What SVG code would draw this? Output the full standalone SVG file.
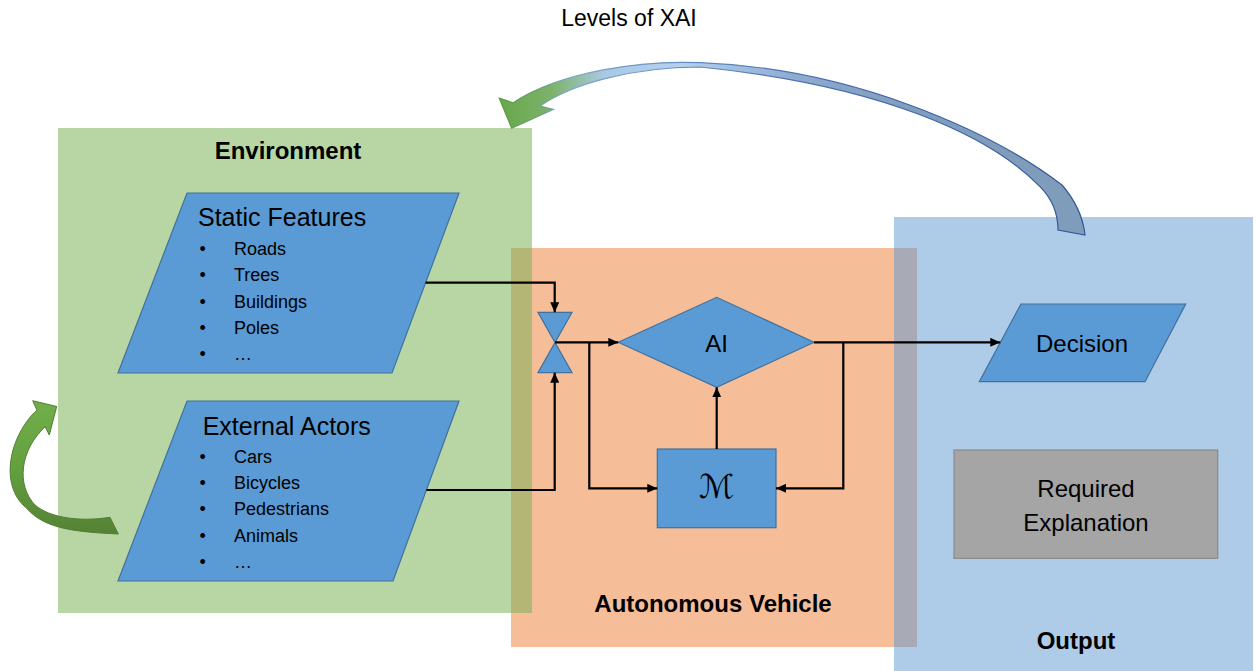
<svg xmlns="http://www.w3.org/2000/svg" width="1257" height="671" viewBox="0 0 1257 671">
<style>
.t{font-family:"Liberation Sans",Arial,sans-serif;fill:#000}
.b{font-weight:bold;font-size:24px;text-anchor:middle}
.h{font-size:25px}
.i{font-size:18px}
.c{font-size:24px;text-anchor:middle}
.shape{fill:#5b9bd5;stroke:#41719c;stroke-width:1.2}
.con{fill:none;stroke:#000;stroke-width:2.2}
</style>
<defs>
<marker id="ah" markerUnits="userSpaceOnUse" markerWidth="10" markerHeight="9" viewBox="0 0 10 9" refX="10" refY="4.5" orient="auto">
<path d="M0,0 L10,4.5 L0,9 Z" fill="#000"/>
</marker>
<linearGradient id="topFill" gradientUnits="userSpaceOnUse" x1="505" y1="0" x2="1090" y2="0">
<stop offset="0" stop-color="#6aa84f"/>
<stop offset="0.08" stop-color="#7db26a"/>
<stop offset="0.17" stop-color="#a9c9e3"/>
<stop offset="0.3" stop-color="#b5d1ee"/>
<stop offset="0.5" stop-color="#8eaad0"/>
<stop offset="0.7" stop-color="#7f9dbd"/>
<stop offset="1" stop-color="#7f9cba"/>
</linearGradient>
<linearGradient id="topStroke" gradientUnits="userSpaceOnUse" x1="505" y1="0" x2="1090" y2="0">
<stop offset="0" stop-color="#5a9a3e"/>
<stop offset="0.12" stop-color="#7fa8cf"/>
<stop offset="0.5" stop-color="#4a70b0"/>
<stop offset="1" stop-color="#2f5597"/>
</linearGradient>
<linearGradient id="greenFill" gradientUnits="userSpaceOnUse" x1="0" y1="400" x2="0" y2="535">
<stop offset="0" stop-color="#72ae49"/>
<stop offset="0.5" stop-color="#64a03e"/>
<stop offset="1" stop-color="#548235"/>
</linearGradient>
</defs>

<g id="regions">
<rect id="environment-bg" x="58" y="128" width="474" height="485" fill="#b8d6a4"/>
<rect id="vehicle-bg" x="511" y="248" width="406" height="399" fill="#f5bd98"/>
<rect id="output-bg" x="894" y="217" width="359" height="454" fill="#aecbe8"/>
<rect x="511" y="248" width="21" height="365" fill="#b4b676"/>
<rect x="894" y="248" width="23" height="399" fill="#a8abb5"/>
</g>

<g id="title">
<text class="t" x="629" y="26" font-size="23" text-anchor="middle">Levels of XAI</text>
</g>

<g id="xai-arrow">
<path d="M511.7,128.3 L499.3,98.3 L513.3,102.7 C560,72 640,60 700,62.7 C850,68 990,130 1062,185 Q1082,208 1085,235 L1058,230 Q1058,205 1040,186.7 C990,135 880,85 700,67 C630,67 570,85 540,106 L553.3,109.3 Z" fill="url(#topFill)" stroke="url(#topStroke)" stroke-width="1.2"/>
</g>

<g id="loop-arrow">
<path d="M56.7,406.5 L32.7,400.7 L36.9,410 C10,435 -2,485 26.7,508.3 C45,530 80,532 118.3,534 L110,517.3 C80,522 50,518 35,505 C16,485 20,450 45.2,426.7 L49.3,435 Z" fill="url(#greenFill)" stroke="#507e32" stroke-width="1"/>
</g>

<g id="environment-label"><text class="t b" x="288" y="159">Environment</text></g>
<g id="vehicle-label"><text class="t b" x="713" y="612">Autonomous Vehicle</text></g>
<g id="output-label"><text class="t b" x="1076" y="649">Output</text></g>

<g id="static-features">
<polygon class="shape" points="187,193 459,193 392,373 118,373"/>
<text class="t h" x="198" y="225.5">Static Features</text>
<g class="t i">
<text x="199.5" y="255">•</text><text x="234" y="255">Roads</text>
<text x="199.5" y="281.3">•</text><text x="234" y="281.3">Trees</text>
<text x="199.5" y="307.6">•</text><text x="234" y="307.6">Buildings</text>
<text x="199.5" y="333.9">•</text><text x="234" y="333.9">Poles</text>
<text x="199.5" y="360.2">•</text><text x="234" y="360.2">…</text>
</g>
</g>

<g id="external-actors">
<polygon class="shape" points="187,401 459,401 393,581 118,581"/>
<text class="t h" x="202.7" y="435">External Actors</text>
<g class="t i">
<text x="199.5" y="462.7">•</text><text x="234" y="462.7">Cars</text>
<text x="199.5" y="489">•</text><text x="234" y="489">Bicycles</text>
<text x="199.5" y="515.3">•</text><text x="234" y="515.3">Pedestrians</text>
<text x="199.5" y="541.6">•</text><text x="234" y="541.6">Animals</text>
<text x="199.5" y="568">•</text><text x="234" y="568">…</text>
</g>
</g>

<g id="collate">
<path class="shape" d="M538,312.3 L572,312.3 L538,372.7 L572,372.7 Z"/>
</g>

<g id="ai">
<polygon class="shape" points="618.3,342.3 716.7,297.3 814,342.3 716.7,387.3"/>
<text class="t c" x="716.7" y="352.3">AI</text>
</g>

<g id="model">
<rect class="shape" x="657.3" y="449" width="118.7" height="78.7"/>
<text x="716.7" y="498" font-family="'DejaVu Serif','DejaVu Sans',serif" font-size="33" font-style="italic" text-anchor="middle">ℳ</text>
</g>

<g id="decision">
<polygon class="shape" points="1021,304 1185.7,304 1145,381.7 979.3,381.7"/>
<text class="t c" x="1082" y="351.7">Decision</text>
</g>

<g id="required-explanation">
<rect x="954" y="450" width="263.7" height="108.3" fill="#a5a5a5" stroke="#8a8a8a" stroke-width="1.2"/>
<text class="t c" x="1086" y="496.7" font-size="25">Required</text>
<text class="t c" x="1086" y="530.7" font-size="25">Explanation</text>
</g>

<g id="connectors">
<polyline class="con" points="425.5,282.7 554.7,282.7 554.7,312.3" marker-end="url(#ah)"/>
<polyline class="con" points="426.4,490 554.7,490 554.7,372.7" marker-end="url(#ah)"/>
<line class="con" x1="555" y1="342.3" x2="618.3" y2="342.3" marker-end="url(#ah)"/>
<polyline class="con" points="589.3,342.3 589.3,488.3 657.3,488.3" marker-end="url(#ah)"/>
<line class="con" x1="716.7" y1="449" x2="716.7" y2="387.3" marker-end="url(#ah)"/>
<line class="con" x1="814" y1="342.3" x2="1000.3" y2="342.3" marker-end="url(#ah)"/>
<polyline class="con" points="843.3,342.3 843.3,488.3 776,488.3" marker-end="url(#ah)"/>
</g>
</svg>
